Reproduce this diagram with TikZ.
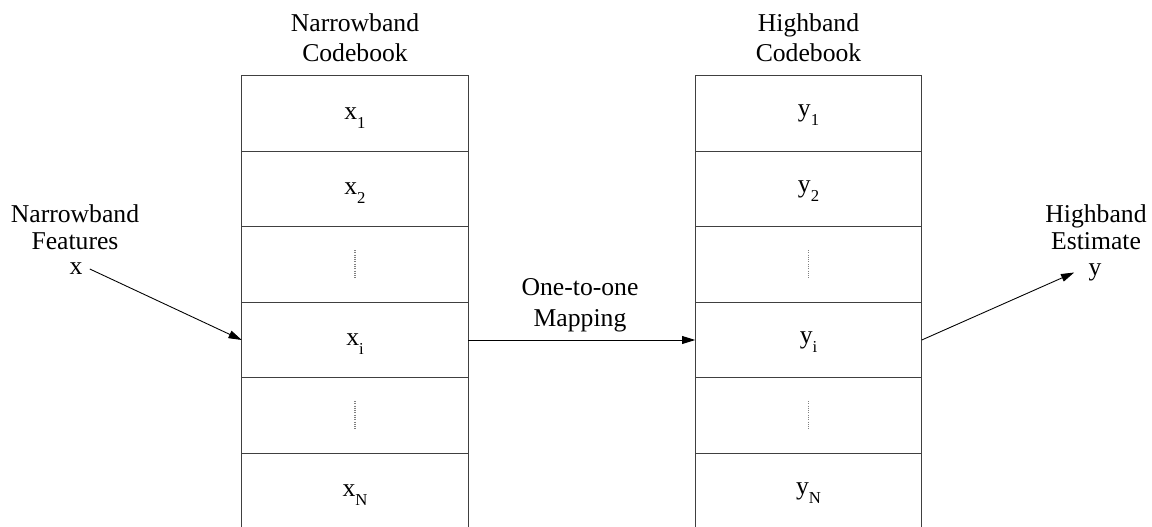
\documentclass[tikz,border=0pt]{standalone}
\usepackage{fontspec}
\setmainfont{Liberation Serif}
\usetikzlibrary{arrows.meta,positioning}

% codeword with a lowered index
\newcommand{\cbent}[2]{#1\smash{\raisebox{-0.35em}{\fontsize{9.5pt}{9.5pt}\selectfont #2}}}

\tikzset{
  cell/.style={rectangle,draw=black!75,line width=0.6pt,minimum width=4.53cm,minimum height=1.51cm,inner sep=0pt,outer sep=0pt},
  lbl/.style={align=center,inner sep=0pt},
  gap/.style={draw=gray,dash pattern=on 0.6pt off 0.7pt,line width=0.6pt},
  map/.style={-{Triangle[length=7.5pt,width=4.5pt]},line width=0.5pt}
}

\begin{document}
\begin{tikzpicture}[font=\fontsize{14.6pt}{17pt}\selectfont]
\useasboundingbox (0,0) rectangle (23.04,-10.54);
\clip (0,0) rectangle (23.04,-10.54);

% narrowband codebook
\node[lbl] (nbtitle) at (7.10,-0.76) {Narrowband\\Codebook};
\node[cell] (nb1) at (7.10,-2.27) {\cbent{x}{1}};
\node[cell,below=0pt of nb1] (nb2) {\cbent{x}{2}};
\node[cell,below=0pt of nb2] (nbd1) {};
\node[cell,below=0pt of nbd1] (nbi) {\cbent{x}{i}};
\node[cell,below=0pt of nbi] (nbd2) {};
\node[cell,below=0pt of nbd2] (nbN) {\cbent{x}{N}};

% highband codebook
\node[lbl] (hbtitle) at (16.17,-0.76) {Highband\\Codebook};
\node[cell] (hb1) at (16.17,-2.27) {\cbent{y}{1}};
\node[cell,below=0pt of hb1] (hb2) {\cbent{y}{2}};
\node[cell,below=0pt of hb2] (hbd1) {};
\node[cell,below=0pt of hbd1] (hbi) {\cbent{y}{i}};
\node[cell,below=0pt of hbi] (hbd2) {};
\node[cell,below=0pt of hbd2] (hbN) {\cbent{y}{N}};

% skipped entries
\foreach \c in {nbd1,nbd2,hbd1,hbd2}
  \draw[gap] ([yshift=0.29cm]\c.center) -- ([yshift=-0.29cm]\c.center);

% input, output and mapping
\node[lbl,font=\fontsize{14.6pt}{15.4pt}\selectfont] (nbfeat) at (1.50,-4.54) {Narrowband\\Features};
\node[inner sep=0pt,inner xsep=4pt] (xin) at (1.52,-5.38) {x};
\node[lbl,font=\fontsize{14.6pt}{15.4pt}\selectfont] (hbest) at (21.92,-4.54) {Highband\\Estimate};
\node[inner sep=0pt,inner xsep=8pt] (yout) at (21.90,-5.45) {y};
\node[lbl,font=\fontsize{14.6pt}{17.6pt}\selectfont] (maplbl) at (11.60,-6.11) {One-to-one\\Mapping};

\draw[map] (xin.east) -- (nbi.west);
\draw[map] (nbi.east) -- (hbi.west);
\draw[map] (hbi.east) -- (yout.west);

\end{tikzpicture}
\end{document}
